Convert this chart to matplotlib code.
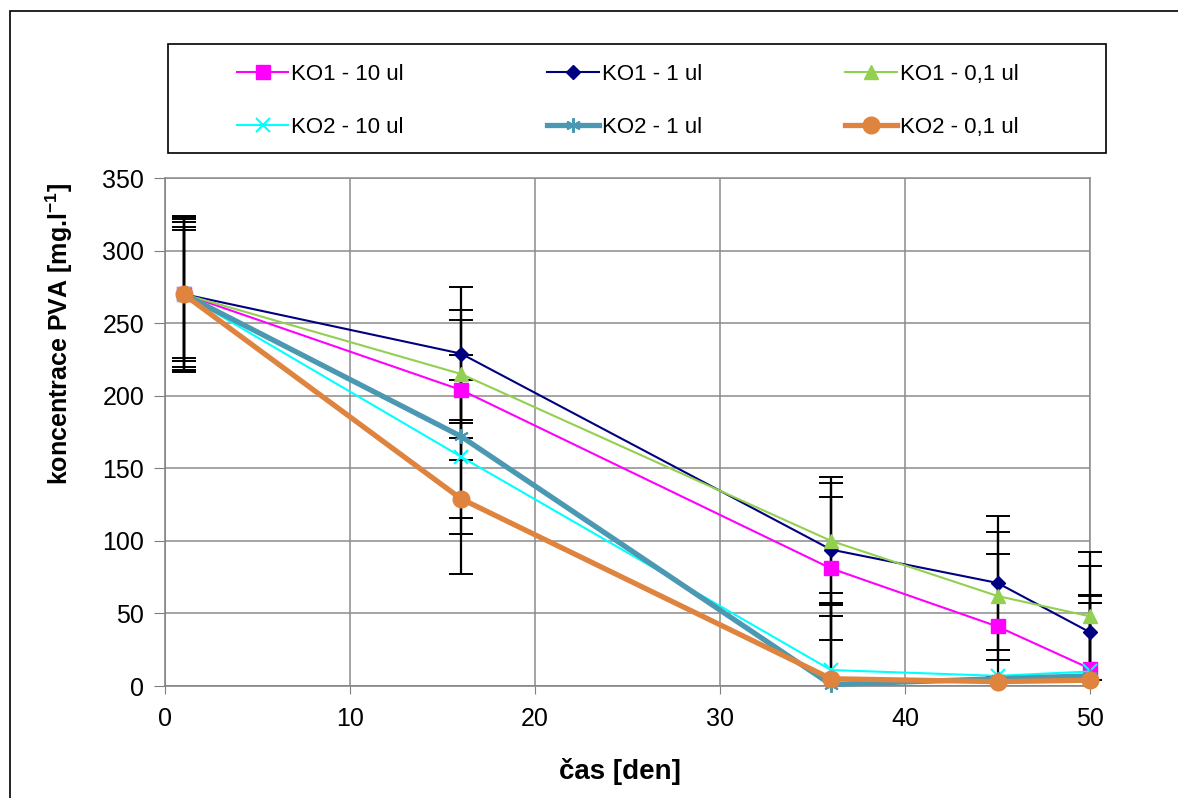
import matplotlib
matplotlib.use("Agg")
import matplotlib.pyplot as plt
from matplotlib.patches import Rectangle

plt.rcParams['font.family'] = ['Liberation Sans', 'DejaVu Sans']
plt.rcParams['mathtext.fontset'] = 'custom'
plt.rcParams['mathtext.rm'] = 'Liberation Sans:bold'
plt.rcParams['mathtext.it'] = 'Liberation Sans:bold'
plt.rcParams['mathtext.bf'] = 'Liberation Sans:bold'

# ---- data ----
days = [1, 16, 36, 45, 50]

labels = ["KO1 - 10 ul", "KO1 - 1 ul", "KO1 - 0,1 ul",
          "KO2 - 10 ul", "KO2 - 1 ul", "KO2 - 0,1 ul"]

ko1_10 = [270, 204, 81, 41, 12]
ko1_1 = [270, 229, 94, 71, 37]
ko1_01 = [270, 215, 100, 62, 48]
ko2_10 = [270, 158, 11, 7, 10]
ko2_1 = [270, 172, 1, 5, 7]
ko2_01 = [270, 129, 5, 3, 4]

err_ko1_10 = [50, 48, 49, 50, 50]
err_ko1_1 = [46, 46, 46, 46, 46]
err_ko1_01 = [44, 44, 44, 44, 44]
err_ko2_10 = [53, 53, 53, 0, 53]
err_ko2_1 = [54, 56, 56, 0, 50]
err_ko2_01 = [52, 52, 52, 0, 53]

series = [ko1_10, ko1_1, ko1_01, ko2_10, ko2_1, ko2_01]
errors = [err_ko1_10, err_ko1_1, err_ko1_01, err_ko2_10, err_ko2_1, err_ko2_01]

x_ticks = [0, 10, 20, 30, 40, 50]
y_ticks = [0, 50, 100, 150, 200, 250, 300, 350]

# ---- styles ----
colors = ["#FF00FF", "#000080", "#92D050", "#00FFFF", "#4A98B2", "#DE843E"]
markers = ["s", "D", "^", "x", (6, 2, 0), "o"]
msizes = [9.5, 7.5, 9.5, 9.5, 10.5, 12]
lwidths = [1.5, 1.5, 1.5, 1.5, 3.8, 3.8]
mews = [1, 1, 1, 1.5, 1.5, 1]

W, H = 1178, 798
fig = plt.figure(figsize=(W / 100, H / 100), dpi=100)

# outer border
fig.patches.append(Rectangle((10 / W, 0 - 0.01), 1.2, 1 - 11 / H + 0.01,
                             transform=fig.transFigure, fill=False,
                             edgecolor="black", linewidth=1.2))

ax = fig.add_axes([165 / W, 1 - 686 / H, (1090 - 165) / W, (686 - 178) / H])

ax.set_xlim(0, 50)
ax.set_ylim(0, 350)

# clip region for error bars: not below 0, but free to the sides
clip_rect = Rectangle((-5, 0), 60, 400, transform=ax.transData,
                      facecolor="none", edgecolor="none")

for y, e in zip(series, errors):
    cont = ax.errorbar(days, y, yerr=e, fmt="none", ecolor="black",
                       elinewidth=1.6, capsize=8.5, capthick=1.4, zorder=2.6)
    for art in list(cont[1]) + list(cont[2]):
        art.set_clip_path(clip_rect)

handles = []
for y, c, m, ms, lw, mew, lab in zip(series, colors, markers, msizes,
                                     lwidths, mews, labels):
    h, = ax.plot(days, y, color=c, marker=m, markersize=ms, linewidth=lw,
                 markerfacecolor=c, markeredgecolor=c, markeredgewidth=mew,
                 label=lab, zorder=3, clip_on=False)
    handles.append(h)

ax.set_xticks(x_ticks)
ax.set_yticks(y_ticks)
ax.grid(True, color="#8C8C8C", linewidth=1.1)
ax.set_axisbelow(True)
for s in ax.spines.values():
    s.set_color("#8C8C8C")
    s.set_linewidth(1.1)
ax.spines["left"].set_color("#7F7F7F")
ax.spines["bottom"].set_color("#7F7F7F")
ax.tick_params(axis="both", colors="#7F7F7F", labelcolor="black",
               labelsize=18, direction="out")
ax.tick_params(axis="y", length=8, pad=7)
ax.tick_params(axis="x", length=6, pad=9)

ax.set_xlabel("čas [den]", fontsize=20, fontweight="bold")
ax.xaxis.set_label_coords((620 - 165) / 925, -(758 - 686) / 508)
ax.set_ylabel("koncentrace PVA [mg.l$^{-1}$]", fontsize=18,
              fontweight="bold")
ax.yaxis.set_label_coords((75 - 165) / 925, (686 - 334) / 508)

# legend box
bx0, by0, bx1, by1 = 168, 44, 1106, 153
fig.patches.append(Rectangle((bx0 / W, 1 - by1 / H), (bx1 - bx0) / W,
                             (by1 - by0) / H, transform=fig.transFigure,
                             fill=False, edgecolor="black", linewidth=1.2))
order = [0, 3, 1, 4, 2, 5]
fig.legend([handles[i] for i in order], [labels[i] for i in order],
           ncol=3, loc="center left",
           bbox_to_anchor=(217 / W, 1 - 101 / H),
           frameon=False, fontsize=16, handlelength=2.3, handletextpad=0.15,
           columnspacing=6.45, labelspacing=1.45, numpoints=1)

fig.savefig("out.png", dpi=100)
